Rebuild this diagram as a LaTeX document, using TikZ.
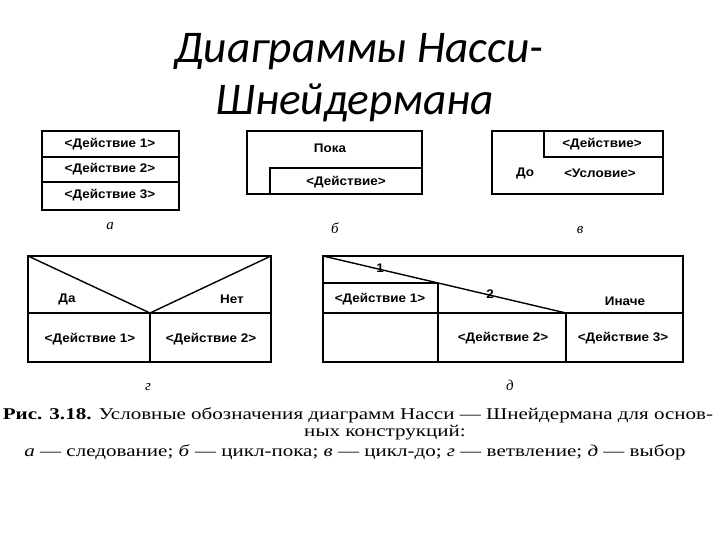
\documentclass[tikz,border=0pt]{standalone}
\usepackage{fontspec}
\setmainfont{Liberation Serif}
\newfontfamily\titlefont{Carlito}
\newfontfamily\boxfont{Liberation Sans}
\begin{document}
\begin{tikzpicture}[x=1bp,y=-1bp,
  frame/.style={line width=1.4bp,draw=black},
  lbl/.style={font=\boxfont\fontsize{12.5}{14}\selectfont\bfseries,inner sep=0pt,xscale=1.08},
  sub/.style={font=\itshape\fontsize{15}{16}\selectfont,inner sep=0pt},
  ttl/.style={font=\titlefont\itshape\fontsize{45.5}{50}\selectfont,inner sep=0pt},
  captext/.style={font=\fontsize{16.5}{18}\selectfont,inner sep=0pt,xscale=1.28}]
\useasboundingbox (0,0) rectangle (720,540);
% Title
\node[ttl] (t1) at (359,52) {Диаграммы Насси-};
\node[ttl] (t2) at (355,103) {Шнейдермана};
% a
\draw[frame] (42,131) rectangle (179,210);
\draw[frame] (42,157) -- (179,157);
\draw[frame] (42,182) -- (179,182);
\node[lbl] (a1) at (110,144) {<Действие 1>};
\node[lbl] (a2) at (110,169) {<Действие 2>};
\node[lbl] (a3) at (110,195) {<Действие 3>};
\node[sub] (la) at (110,226) {а};
% b
\draw[frame] (247,131) rectangle (422,194);
\draw[frame] (270,194) -- (270,168) -- (422,168);
\node[lbl] (b1) at (330,148) {Пока};
\node[lbl] (b2) at (346,182) {<Действие>};
\node[sub] (lb) at (335,228) {б};
% v
\draw[frame] (492,131) rectangle (663,194);
\draw[frame] (544,131) -- (544,157) -- (663,157);
\node[lbl] (v1) at (602,144) {<Действие>};
\node[lbl] (v2) at (525,173) {До};
\node[lbl] (v3) at (600,173) {<Условие>};
\node[sub] (lv) at (580,230) {в};
% g
\draw[frame] (28,256) rectangle (271,362);
\draw[frame] (28,313) -- (271,313);
\draw[frame] (28,256) -- (150,313) -- (271,256);
\draw[frame] (150,313) -- (150,362);
\node[lbl] (g1) at (67,299) {Да};
\node[lbl] (g2) at (232,299) {Нет};
\node[lbl] (g3) at (90,339) {<Действие 1>};
\node[lbl] (g4) at (211,339) {<Действие 2>};
\node[sub] (lg) at (148,387) {г};
% d
\draw[frame] (323,256) rectangle (683,362);
\draw[frame] (323,256) -- (566,313);
\draw[frame] (323,283) -- (438,283);
\draw[frame] (438,283) -- (438,362);
\draw[frame] (323,313) -- (683,313);
\draw[frame] (566,313) -- (566,362);
\node[lbl] (d0) at (380,268) {1};
\node[lbl] (d00) at (490,294) {2};
\node[lbl] (d1) at (380,299) {<Действие 1>};
\node[lbl] (d2) at (625,301) {Иначе};
\node[lbl] (d3) at (503,338) {<Действие 2>};
\node[lbl] (d4) at (623,338) {<Действие 3>};
\node[sub] (ld) at (510,385) {д};
% caption
\node[captext] (c1) at (358,415) {\textbf{Рис. 3.18.} Условные обозначения диаграмм Насси — Шнейдермана для основ-};
\node[captext] (c2) at (385,433) {ных конструкций:};
\node[captext] (c3) at (355,452) {\textit{а} — следование; \textit{б} — цикл-пока; \textit{в} — цикл-до; \textit{г} — ветвление; \textit{д} — выбор};
\end{tikzpicture}
\end{document}
